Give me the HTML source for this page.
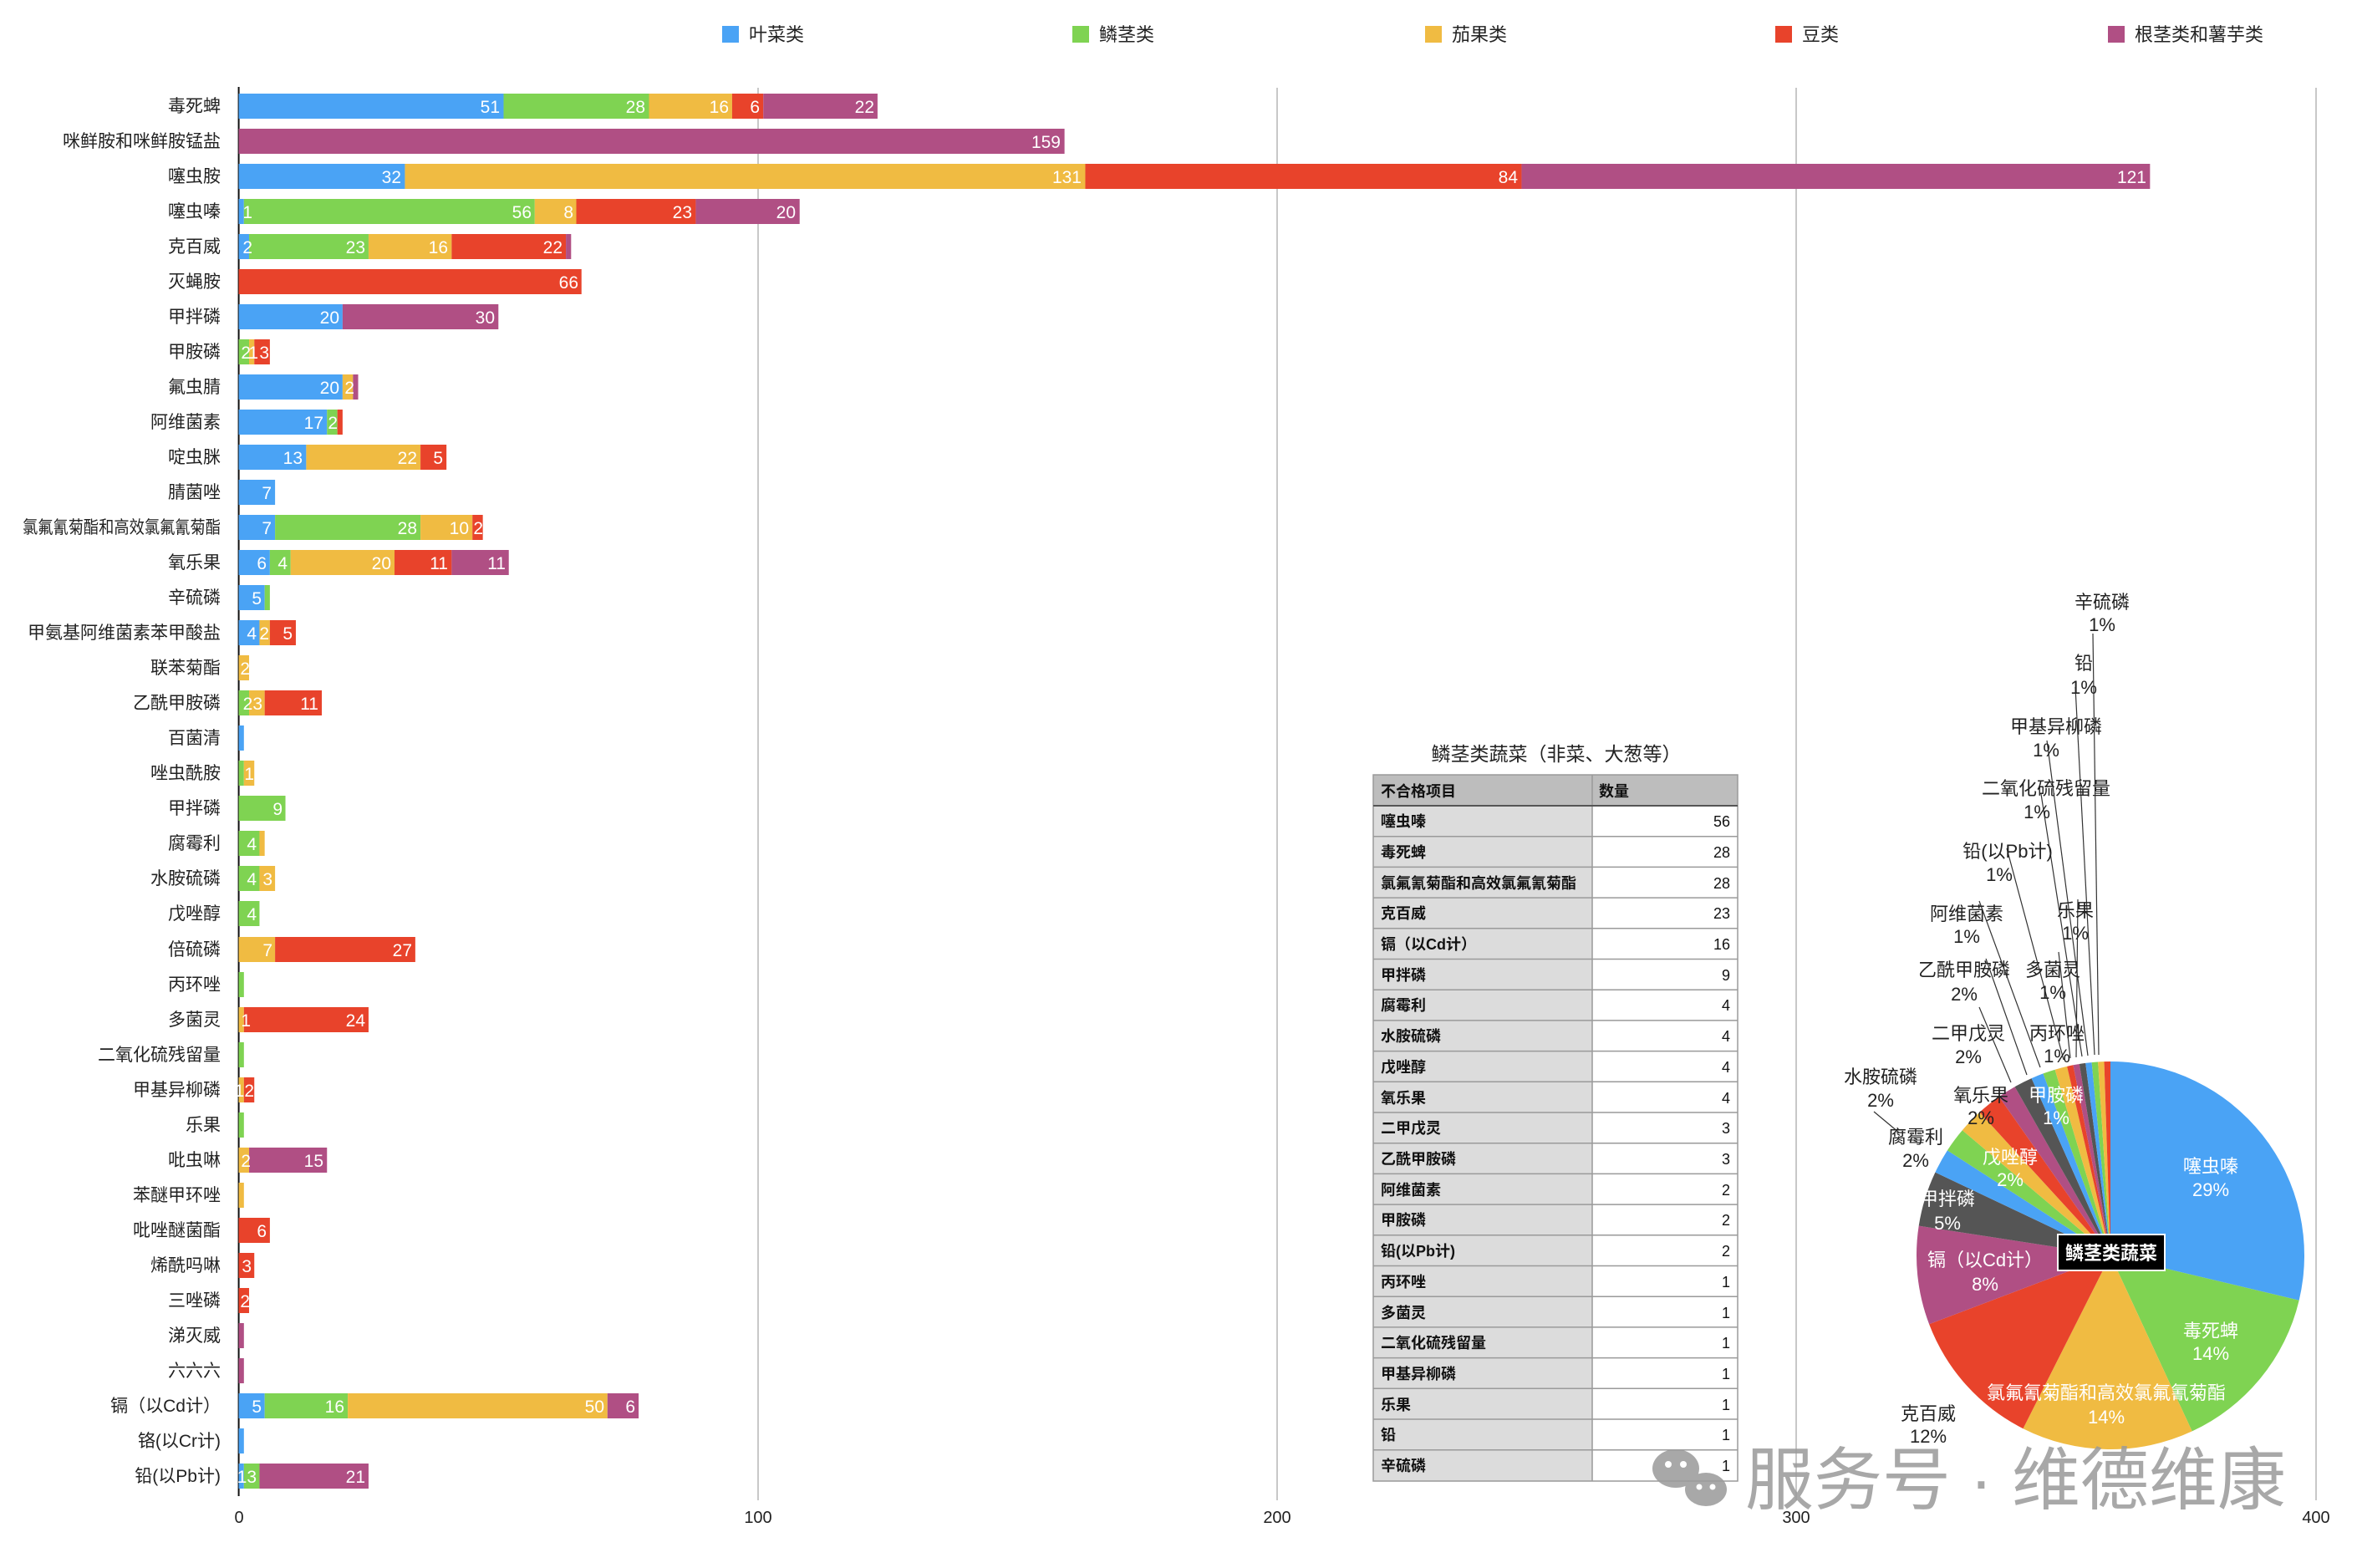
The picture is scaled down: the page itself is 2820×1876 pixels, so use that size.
<!DOCTYPE html>
<html><head><meta charset="utf-8"><style>
html,body{margin:0;padding:0;background:#fff;}
svg{display:block;}
text{font-family:"Liberation Sans","Noto Sans CJK SC",sans-serif;}
</style></head><body>
<svg width="2820" height="1876" viewBox="0 0 2820 1876" xmlns="http://www.w3.org/2000/svg">
<rect width="2820" height="1876" fill="#fff"/>
<!-- legend -->
<g font-size="22" fill="#222">
<rect x="864" y="31" width="20" height="20" fill="#4aa3f5"/><text x="896" y="49">叶菜类</text>
<rect x="1283" y="31" width="20" height="20" fill="#7fd352"/><text x="1315" y="49">鳞茎类</text>
<rect x="1705" y="31" width="20" height="20" fill="#f0bb42"/><text x="1737" y="49">茄果类</text>
<rect x="2124" y="31" width="20" height="20" fill="#e8432b"/><text x="2156" y="49">豆类</text>
<rect x="2522" y="31" width="20" height="20" fill="#b04f84"/><text x="2554" y="49">根茎类和薯芋类</text>
</g>
<!-- grid -->
<g stroke="#c8c8c8" stroke-width="2">
<line x1="907" y1="105" x2="907" y2="1795"/><line x1="1528" y1="105" x2="1528" y2="1795"/>
<line x1="2149" y1="105" x2="2149" y2="1795"/><line x1="2771" y1="105" x2="2771" y2="1795"/>
</g>
<line x1="285.6" y1="104" x2="285.6" y2="1790" stroke="#111" stroke-width="2"/>
<g font-size="20" fill="#222" text-anchor="middle">
<text x="286" y="1822">0</text><text x="907" y="1822">100</text><text x="1528" y="1822">200</text><text x="2149" y="1822">300</text><text x="2771" y="1822">400</text>
</g>
<!-- bars -->
<g transform="translate(285.6 0) scale(6.214 1)">
<g transform="translate(0 112)"><rect x="0" width="51" height="30" fill="#4aa3f5"/><rect x="51" width="28" height="30" fill="#7fd352"/><rect x="79" width="16" height="30" fill="#f0bb42"/><rect x="95" width="6" height="30" fill="#e8432b"/><rect x="101" width="22" height="30" fill="#b04f84"/></g>
<g transform="translate(0 154)"><rect x="0" width="159" height="30" fill="#b04f84"/></g>
<g transform="translate(0 196)"><rect x="0" width="32" height="30" fill="#4aa3f5"/><rect x="32" width="131" height="30" fill="#f0bb42"/><rect x="163" width="84" height="30" fill="#e8432b"/><rect x="247" width="121" height="30" fill="#b04f84"/></g>
<g transform="translate(0 238)"><rect x="0" width="1" height="30" fill="#4aa3f5"/><rect x="1" width="56" height="30" fill="#7fd352"/><rect x="57" width="8" height="30" fill="#f0bb42"/><rect x="65" width="23" height="30" fill="#e8432b"/><rect x="88" width="20" height="30" fill="#b04f84"/></g>
<g transform="translate(0 280)"><rect x="0" width="2" height="30" fill="#4aa3f5"/><rect x="2" width="23" height="30" fill="#7fd352"/><rect x="25" width="16" height="30" fill="#f0bb42"/><rect x="41" width="22" height="30" fill="#e8432b"/><rect x="63" width="1" height="30" fill="#b04f84"/></g>
<g transform="translate(0 322)"><rect x="0" width="66" height="30" fill="#e8432b"/></g>
<g transform="translate(0 364)"><rect x="0" width="20" height="30" fill="#4aa3f5"/><rect x="20" width="30" height="30" fill="#b04f84"/></g>
<g transform="translate(0 406)"><rect x="0" width="2" height="30" fill="#7fd352"/><rect x="2" width="1" height="30" fill="#f0bb42"/><rect x="3" width="3" height="30" fill="#e8432b"/></g>
<g transform="translate(0 448)"><rect x="0" width="20" height="30" fill="#4aa3f5"/><rect x="20" width="2" height="30" fill="#f0bb42"/><rect x="22" width="1" height="30" fill="#b04f84"/></g>
<g transform="translate(0 490)"><rect x="0" width="17" height="30" fill="#4aa3f5"/><rect x="17" width="2" height="30" fill="#7fd352"/><rect x="19" width="1" height="30" fill="#e8432b"/></g>
<g transform="translate(0 532)"><rect x="0" width="13" height="30" fill="#4aa3f5"/><rect x="13" width="22" height="30" fill="#f0bb42"/><rect x="35" width="5" height="30" fill="#e8432b"/></g>
<g transform="translate(0 574)"><rect x="0" width="7" height="30" fill="#4aa3f5"/></g>
<g transform="translate(0 616)"><rect x="0" width="7" height="30" fill="#4aa3f5"/><rect x="7" width="28" height="30" fill="#7fd352"/><rect x="35" width="10" height="30" fill="#f0bb42"/><rect x="45" width="2" height="30" fill="#e8432b"/></g>
<g transform="translate(0 658)"><rect x="0" width="6" height="30" fill="#4aa3f5"/><rect x="6" width="4" height="30" fill="#7fd352"/><rect x="10" width="20" height="30" fill="#f0bb42"/><rect x="30" width="11" height="30" fill="#e8432b"/><rect x="41" width="11" height="30" fill="#b04f84"/></g>
<g transform="translate(0 700)"><rect x="0" width="5" height="30" fill="#4aa3f5"/><rect x="5" width="1" height="30" fill="#7fd352"/></g>
<g transform="translate(0 742)"><rect x="0" width="4" height="30" fill="#4aa3f5"/><rect x="4" width="2" height="30" fill="#f0bb42"/><rect x="6" width="5" height="30" fill="#e8432b"/></g>
<g transform="translate(0 784)"><rect x="0" width="2" height="30" fill="#f0bb42"/></g>
<g transform="translate(0 826)"><rect x="0" width="2" height="30" fill="#7fd352"/><rect x="2" width="3" height="30" fill="#f0bb42"/><rect x="5" width="11" height="30" fill="#e8432b"/></g>
<g transform="translate(0 868)"><rect x="0" width="1" height="30" fill="#4aa3f5"/></g>
<g transform="translate(0 910)"><rect x="0" width="1" height="30" fill="#7fd352"/><rect x="1" width="2" height="30" fill="#f0bb42"/></g>
<g transform="translate(0 952)"><rect x="0" width="9" height="30" fill="#7fd352"/></g>
<g transform="translate(0 994)"><rect x="0" width="4" height="30" fill="#7fd352"/><rect x="4" width="1" height="30" fill="#f0bb42"/></g>
<g transform="translate(0 1036)"><rect x="0" width="4" height="30" fill="#7fd352"/><rect x="4" width="3" height="30" fill="#f0bb42"/></g>
<g transform="translate(0 1078)"><rect x="0" width="4" height="30" fill="#7fd352"/></g>
<g transform="translate(0 1121)"><rect x="0" width="7" height="30" fill="#f0bb42"/><rect x="7" width="27" height="30" fill="#e8432b"/></g>
<g transform="translate(0 1163)"><rect x="0" width="1" height="30" fill="#7fd352"/></g>
<g transform="translate(0 1205)"><rect x="0" width="1" height="30" fill="#f0bb42"/><rect x="1" width="24" height="30" fill="#e8432b"/></g>
<g transform="translate(0 1247)"><rect x="0" width="1" height="30" fill="#7fd352"/></g>
<g transform="translate(0 1289)"><rect x="0" width="1" height="30" fill="#f0bb42"/><rect x="1" width="2" height="30" fill="#e8432b"/></g>
<g transform="translate(0 1331)"><rect x="0" width="1" height="30" fill="#7fd352"/></g>
<g transform="translate(0 1373)"><rect x="0" width="2" height="30" fill="#f0bb42"/><rect x="2" width="15" height="30" fill="#b04f84"/></g>
<g transform="translate(0 1415)"><rect x="0" width="1" height="30" fill="#f0bb42"/></g>
<g transform="translate(0 1457)"><rect x="0" width="6" height="30" fill="#e8432b"/></g>
<g transform="translate(0 1499)"><rect x="0" width="3" height="30" fill="#e8432b"/></g>
<g transform="translate(0 1541)"><rect x="0" width="2" height="30" fill="#e8432b"/></g>
<g transform="translate(0 1583)"><rect x="0" width="1" height="30" fill="#b04f84"/></g>
<g transform="translate(0 1625)"><rect x="0" width="1" height="30" fill="#b04f84"/></g>
<g transform="translate(0 1667)"><rect x="0" width="5" height="30" fill="#4aa3f5"/><rect x="5" width="16" height="30" fill="#7fd352"/><rect x="21" width="50" height="30" fill="#f0bb42"/><rect x="71" width="6" height="30" fill="#b04f84"/></g>
<g transform="translate(0 1709)"><rect x="0" width="1" height="30" fill="#4aa3f5"/></g>
<g transform="translate(0 1751)"><rect x="0" width="1" height="30" fill="#4aa3f5"/><rect x="1" width="3" height="30" fill="#7fd352"/><rect x="4" width="21" height="30" fill="#b04f84"/></g>
</g>
<!-- bar value labels -->
<g font-size="21" fill="#fff" text-anchor="end">
<text x="598" y="135">51</text><text x="772" y="135">28</text><text x="872" y="135">16</text><text x="909" y="135">6</text><text x="1046" y="135">22</text>
<text x="1269" y="177">159</text>
<text x="480" y="219">32</text><text x="1294" y="219">131</text><text x="1816" y="219">84</text><text x="2568" y="219">121</text>
<text x="302" y="261">1</text><text x="636" y="261">56</text><text x="686" y="261">8</text><text x="828" y="261">23</text><text x="952" y="261">20</text>
<text x="302" y="303">2</text><text x="437" y="303">23</text><text x="536" y="303">16</text><text x="673" y="303">22</text>
<text x="692" y="345">66</text>
<text x="406" y="387">20</text><text x="592" y="387">30</text>
<text x="300" y="429">2</text><text x="309" y="429">1</text><text x="322" y="429">3</text>
<text x="406" y="471">20</text><text x="424" y="471">2</text>
<text x="387" y="513">17</text><text x="404" y="513">2</text>
<text x="362" y="555">13</text><text x="499" y="555">22</text><text x="530" y="555">5</text>
<text x="325" y="597">7</text>
<text x="325" y="639">7</text><text x="499" y="639">28</text><text x="561" y="639">10</text><text x="578" y="639">2</text>
<text x="319" y="681">6</text><text x="344" y="681">4</text><text x="468" y="681">20</text><text x="536" y="681">11</text><text x="605" y="681">11</text>
<text x="313" y="723">5</text>
<text x="307" y="765">4</text><text x="322" y="765">2</text><text x="350" y="765">5</text>
<text x="299" y="807">2</text>
<text x="314" y="849">23</text><text x="381" y="849">11</text>
<text x="304" y="933">1</text>
<text x="338" y="975">9</text>
<text x="307" y="1017">4</text>
<text x="307" y="1059">4</text><text x="326" y="1059">3</text>
<text x="307" y="1101">4</text>
<text x="326" y="1144">7</text><text x="493" y="1144">27</text>
<text x="300" y="1228">1</text><text x="437" y="1228">24</text>
<text x="304" y="1312">12</text>
<text x="300" y="1396">2</text><text x="387" y="1396">15</text>
<text x="319" y="1480">6</text>
<text x="301" y="1522">3</text>
<text x="299" y="1564">2</text>
<text x="313" y="1690">5</text><text x="412" y="1690">16</text><text x="723" y="1690">50</text><text x="760" y="1690">6</text>
<text x="307" y="1774">13</text><text x="437" y="1774">21</text>
</g>
<!-- row labels -->
<g font-size="21" fill="#222" text-anchor="end">
<text x="264" y="134">毒死蜱</text><text x="264" y="176">咪鲜胺和咪鲜胺锰盐</text><text x="264" y="218">噻虫胺</text><text x="264" y="260">噻虫嗪</text>
<text x="264" y="302">克百威</text><text x="264" y="344">灭蝇胺</text><text x="264" y="386">甲拌磷</text><text x="264" y="428">甲胺磷</text>
<text x="264" y="470">氟虫腈</text><text x="264" y="512">阿维菌素</text><text x="264" y="554">啶虫脒</text><text x="264" y="596">腈菌唑</text>
<text x="264" y="638" textLength="237" lengthAdjust="spacingAndGlyphs">氯氟氰菊酯和高效氯氟氰菊酯</text><text x="264" y="680">氧乐果</text><text x="264" y="722">辛硫磷</text>
<text x="264" y="764">甲氨基阿维菌素苯甲酸盐</text><text x="264" y="806">联苯菊酯</text><text x="264" y="848">乙酰甲胺磷</text>
<text x="264" y="890">百菌清</text><text x="264" y="932">唑虫酰胺</text><text x="264" y="974">甲拌磷</text><text x="264" y="1016">腐霉利</text>
<text x="264" y="1058">水胺硫磷</text><text x="264" y="1100">戊唑醇</text><text x="264" y="1143">倍硫磷</text><text x="264" y="1185">丙环唑</text>
<text x="264" y="1227">多菌灵</text><text x="264" y="1269">二氧化硫残留量</text><text x="264" y="1311">甲基异柳磷</text><text x="264" y="1353">乐果</text>
<text x="264" y="1395">吡虫啉</text><text x="264" y="1437">苯醚甲环唑</text><text x="264" y="1479">吡唑醚菌酯</text><text x="264" y="1521">烯酰吗啉</text>
<text x="264" y="1563">三唑磷</text><text x="264" y="1605">涕灭威</text><text x="264" y="1647">六六六</text><text x="264" y="1689">镉（以Cd计）</text>
<text x="264" y="1731">铬(以Cr计)</text><text x="264" y="1773">铅(以Pb计)</text>
</g>
<!-- table -->
<text x="1862" y="910" font-size="23" fill="#222" text-anchor="middle">鳞茎类蔬菜（非菜、大葱等）</text>
<rect x="1643" y="927" width="436" height="37" fill="#bdbdbd"/>
<rect x="1643" y="964" width="262" height="808" fill="#dcdcdc"/>
<rect x="1905" y="964" width="174" height="808" fill="#fff"/>
<g stroke="#9a9a9a" stroke-width="1.5">
<line x1="1643" y1="1000.7" x2="2079" y2="1000.7"/><line x1="1643" y1="1037.4" x2="2079" y2="1037.4"/><line x1="1643" y1="1074.1" x2="2079" y2="1074.1"/><line x1="1643" y1="1110.8" x2="2079" y2="1110.8"/><line x1="1643" y1="1147.5" x2="2079" y2="1147.5"/><line x1="1643" y1="1184.2" x2="2079" y2="1184.2"/><line x1="1643" y1="1220.9" x2="2079" y2="1220.9"/><line x1="1643" y1="1257.6" x2="2079" y2="1257.6"/><line x1="1643" y1="1294.3" x2="2079" y2="1294.3"/><line x1="1643" y1="1331" x2="2079" y2="1331"/><line x1="1643" y1="1367.7" x2="2079" y2="1367.7"/><line x1="1643" y1="1404.4" x2="2079" y2="1404.4"/><line x1="1643" y1="1441.1" x2="2079" y2="1441.1"/><line x1="1643" y1="1477.8" x2="2079" y2="1477.8"/><line x1="1643" y1="1514.5" x2="2079" y2="1514.5"/><line x1="1643" y1="1551.2" x2="2079" y2="1551.2"/><line x1="1643" y1="1587.9" x2="2079" y2="1587.9"/><line x1="1643" y1="1624.6" x2="2079" y2="1624.6"/><line x1="1643" y1="1661.3" x2="2079" y2="1661.3"/><line x1="1643" y1="1698" x2="2079" y2="1698"/><line x1="1643" y1="1734.7" x2="2079" y2="1734.7"/>
<rect x="1643" y="927" width="436" height="845" fill="none"/>
<line x1="1905" y1="927" x2="1905" y2="1772"/>
</g>
<line x1="1643" y1="964" x2="2079" y2="964" stroke="#555" stroke-width="2"/>
<g font-size="18" font-weight="bold" fill="#111">
<text x="1652" y="953">不合格项目</text><text x="1913" y="953">数量</text>
<text x="1652" y="989">噻虫嗪</text><text x="1652" y="1026">毒死蜱</text><text x="1652" y="1063">氯氟氰菊酯和高效氯氟氰菊酯</text><text x="1652" y="1099">克百威</text><text x="1652" y="1136">镉（以Cd计）</text><text x="1652" y="1173">甲拌磷</text><text x="1652" y="1209">腐霉利</text><text x="1652" y="1246">水胺硫磷</text><text x="1652" y="1283">戊唑醇</text><text x="1652" y="1320">氧乐果</text><text x="1652" y="1356">二甲戊灵</text><text x="1652" y="1393">乙酰甲胺磷</text><text x="1652" y="1430">阿维菌素</text><text x="1652" y="1466">甲胺磷</text><text x="1652" y="1503">铅(以Pb计)</text><text x="1652" y="1540">丙环唑</text><text x="1652" y="1577">多菌灵</text><text x="1652" y="1613">二氧化硫残留量</text><text x="1652" y="1650">甲基异柳磷</text><text x="1652" y="1687">乐果</text><text x="1652" y="1723">铅</text><text x="1652" y="1760">辛硫磷</text>
</g>
<g font-size="18" fill="#111" text-anchor="end">
<text x="2070" y="989">56</text><text x="2070" y="1026">28</text><text x="2070" y="1063">28</text><text x="2070" y="1099">23</text><text x="2070" y="1136">16</text><text x="2070" y="1173">9</text><text x="2070" y="1209">4</text><text x="2070" y="1246">4</text><text x="2070" y="1283">4</text><text x="2070" y="1320">4</text><text x="2070" y="1356">3</text><text x="2070" y="1393">3</text><text x="2070" y="1430">2</text><text x="2070" y="1466">2</text><text x="2070" y="1503">2</text><text x="2070" y="1540">1</text><text x="2070" y="1577">1</text><text x="2070" y="1613">1</text><text x="2070" y="1650">1</text><text x="2070" y="1687">1</text><text x="2070" y="1723">1</text><text x="2070" y="1760">1</text>
</g>
<!-- pie -->
<g>
<path d="M2525 1502 L2525 1270 A232 232 0 0 1 2750.7 1555.7 Z" fill="#4aa3f5"/>
<path d="M2525 1502 L2750.7 1555.7 A232 232 0 0 1 2622.7 1712.4 Z" fill="#7fd352"/>
<path d="M2525 1502 L2622.7 1712.4 A232 232 0 0 1 2420.5 1709.2 Z" fill="#f0bb42"/>
<path d="M2525 1502 L2420.5 1709.2 A232 232 0 0 1 2308.1 1584.3 Z" fill="#e8432b"/>
<path d="M2525 1502 L2308.1 1584.3 A232 232 0 0 1 2295.7 1466.6 Z" fill="#b04f84"/>
<path d="M2525 1502 L2295.7 1466.6 A232 232 0 0 1 2315.4 1402.6 Z" fill="#555"/>
<path d="M2525 1502 L2315.4 1402.6 A232 232 0 0 1 2329.9 1376.4 Z" fill="#4aa3f5"/>
<path d="M2525 1502 L2329.9 1376.4 A232 232 0 0 1 2347.8 1352.3 Z" fill="#7fd352"/>
<path d="M2525 1502 L2347.8 1352.3 A232 232 0 0 1 2368.4 1330.8 Z" fill="#f0bb42"/>
<path d="M2525 1502 L2368.4 1330.8 A232 232 0 0 1 2391.7 1312.1 Z" fill="#e8432b"/>
<path d="M2525 1502 L2391.7 1312.1 A232 232 0 0 1 2410.6 1300.2 Z" fill="#b04f84"/>
<path d="M2525 1502 L2410.6 1300.2 A232 232 0 0 1 2430.6 1290.1 Z" fill="#555"/>
<path d="M2525 1502 L2430.6 1290.1 A232 232 0 0 1 2444.5 1284.4 Z" fill="#4aa3f5"/>
<path d="M2525 1502 L2444.5 1284.4 A232 232 0 0 1 2458.6 1279.7 Z" fill="#7fd352"/>
<path d="M2525 1502 L2458.6 1279.7 A232 232 0 0 1 2473.1 1275.9 Z" fill="#f0bb42"/>
<path d="M2525 1502 L2473.1 1275.9 A232 232 0 0 1 2480.4 1274.3 Z" fill="#e8432b"/>
<path d="M2525 1502 L2480.4 1274.3 A232 232 0 0 1 2487.8 1273.0 Z" fill="#b04f84"/>
<path d="M2525 1502 L2487.8 1273.0 A232 232 0 0 1 2495.2 1271.9 Z" fill="#555"/>
<path d="M2525 1502 L2495.2 1271.9 A232 232 0 0 1 2502.6 1271.1 Z" fill="#4aa3f5"/>
<path d="M2525 1502 L2502.6 1271.1 A232 232 0 0 1 2510.1 1270.5 Z" fill="#7fd352"/>
<path d="M2525 1502 L2510.1 1270.5 A232 232 0 0 1 2517.5 1270.1 Z" fill="#f0bb42"/>
<path d="M2525 1502 L2517.5 1270.1 A232 232 0 0 1 2525 1270 Z" fill="#e8432b"/>
</g>
<g stroke="#333" stroke-width="1.2" fill="none">
<line x1="2504" y1="758" x2="2511" y2="1262"/><line x1="2483" y1="822" x2="2506" y2="1262"/>
<line x1="2449" y1="886" x2="2498" y2="1263"/><line x1="2442" y1="950" x2="2491" y2="1264"/>
<line x1="2401" y1="1015" x2="2469" y2="1268"/><line x1="2368" y1="1078" x2="2441" y2="1277"/>
<line x1="2486" y1="1076" x2="2484" y2="1265"/><line x1="2463" y1="1139" x2="2477" y2="1266"/>
<line x1="2376" y1="1147" x2="2425" y2="1286"/><line x1="2368" y1="1205" x2="2406" y2="1295"/>
<line x1="2242" y1="1330" x2="2272" y2="1355"/>
</g>
<g font-size="22" fill="#222" text-anchor="middle">
<text x="2515" y="728">辛硫磷</text><text x="2515" y="755">1%</text>
<text x="2493" y="801">铅</text><text x="2493" y="830">1%</text>
<text x="2460" y="877">甲基异柳磷</text><text x="2448" y="905">1%</text>
<text x="2448" y="951">二氧化硫残留量</text><text x="2437" y="979">1%</text>
<text x="2402" y="1026">铅(以Pb计)</text><text x="2392" y="1054">1%</text>
<text x="2353" y="1101">阿维菌素</text><text x="2353" y="1128">1%</text>
<text x="2483" y="1097">乐果</text><text x="2483" y="1124">1%</text>
<text x="2350" y="1168">乙酰甲胺磷</text><text x="2350" y="1197">2%</text>
<text x="2456" y="1168">多菌灵</text><text x="2456" y="1195">1%</text>
<text x="2355" y="1244">二甲戊灵</text><text x="2355" y="1272">2%</text>
<text x="2461" y="1244">丙环唑</text><text x="2461" y="1271">1%</text>
<text x="2250" y="1296">水胺硫磷</text><text x="2250" y="1324">2%</text>
<text x="2370" y="1318">氧乐果</text><text x="2370" y="1345">2%</text>
<text x="2292" y="1368">腐霉利</text><text x="2292" y="1396">2%</text>
<text x="2307" y="1699">克百威</text><text x="2307" y="1726">12%</text>
</g>
<g font-size="22" fill="#fff" text-anchor="middle">
<text x="2460" y="1318">甲胺磷</text><text x="2460" y="1345">1%</text>
<text x="2405" y="1392">戊唑醇</text><text x="2405" y="1419">2%</text>
<text x="2330" y="1442">甲拌磷</text><text x="2330" y="1471">5%</text>
<text x="2375" y="1515">镉（以Cd计）</text><text x="2375" y="1544">8%</text>
<text x="2645" y="1403">噻虫嗪</text><text x="2645" y="1431">29%</text>
<text x="2645" y="1600">毒死蜱</text><text x="2645" y="1627">14%</text>
<text x="2520" y="1674">氯氟氰菊酯和高效氯氟氰菊酯</text><text x="2520" y="1703">14%</text>
</g>
<rect x="2462" y="1477" width="128" height="43" fill="#000" stroke="#fff" stroke-width="2"/>
<text x="2526" y="1507" font-size="22" font-weight="bold" fill="#fff" text-anchor="middle">鳞茎类蔬菜</text>
<!-- watermark -->
<g fill="#9a9a9a" opacity="0.85">
<ellipse cx="2005" cy="1757" rx="28" ry="23"/>
<ellipse cx="2041" cy="1782" rx="25" ry="20"/>
</g>
<g fill="#fff"><circle cx="1996" cy="1752" r="4"/><circle cx="2014" cy="1752" r="4"/><circle cx="2033" cy="1779" r="3.5"/><circle cx="2049" cy="1779" r="3.5"/></g>
<text x="2088" y="1799" font-size="82" fill="#9a9a9a" opacity="0.85">服务号 · 维德维康</text>
</svg>
</body></html>
